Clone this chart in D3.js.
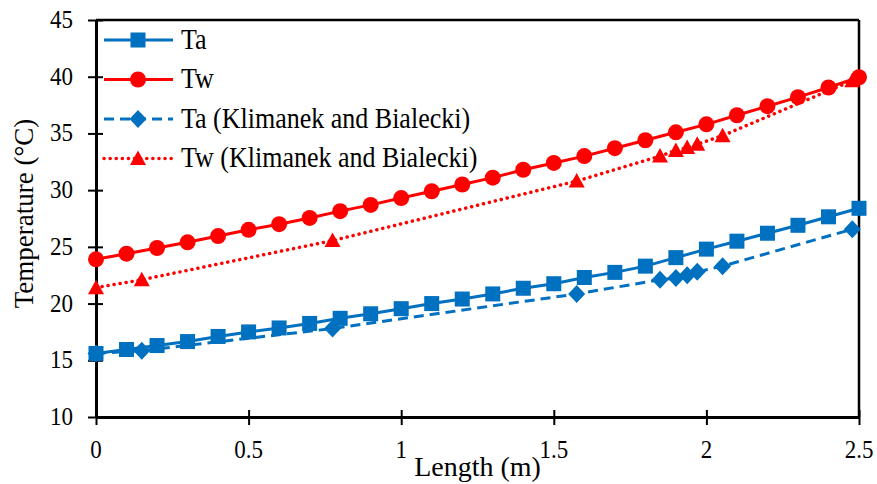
<!DOCTYPE html>
<html>
<head>
<meta charset="utf-8">
<script src="https://cdn.jsdelivr.net/npm/d3@7/dist/d3.min.js"></script>
<style>
  html, body { margin: 0; padding: 0; background: #fff; }
  svg { display: block; }
  text { font-family: "Liberation Serif", "Times New Roman", serif; fill: #000; }
</style>
</head>
<body>
<svg id="chart" width="877" height="484"></svg>
<script>
// ---------------- data ----------------
const lengthModel = [0, 0.1, 0.2, 0.3, 0.4, 0.5, 0.6, 0.7, 0.8, 0.9, 1.0, 1.1, 1.2, 1.3, 1.4, 1.5, 1.6, 1.7, 1.8, 1.9, 2.0, 2.1, 2.2, 2.3, 2.4, 2.5];
const taModel = [15.6, 15.95, 16.3, 16.65, 17.1, 17.5, 17.85, 18.25, 18.7, 19.1, 19.55, 20.0, 20.4, 20.85, 21.35, 21.75, 22.3, 22.75, 23.3, 24.05, 24.8, 25.5, 26.2, 26.9, 27.65, 28.4];
const twModel = [23.9, 24.4, 24.9, 25.4, 25.95, 26.5, 27.0, 27.55, 28.15, 28.7, 29.3, 29.9, 30.5, 31.1, 31.8, 32.4, 33.0, 33.7, 34.4, 35.1, 35.8, 36.6, 37.4, 38.2, 39.05, 39.95];
const lengthKB = [0, 0.15, 0.775, 1.575, 1.848, 1.9, 1.937, 1.97, 2.053, 2.478];
const taKB = [15.6, 15.85, 17.8, 20.85, 22.1, 22.25, 22.5, 22.8, 23.3, 26.55];
const twKB = [21.4, 22.1, 25.55, 30.8, 33.0, 33.5, 33.75, 34.05, 34.8, 39.65];
const xTicks = [0, 0.5, 1, 1.5, 2, 2.5];
const yTicks = [10, 15, 20, 25, 30, 35, 40, 45];
const seriesNames = ["Ta", "Tw", "Ta (Klimanek and Bialecki)", "Tw (Klimanek and Bialecki)"];
const xTitle = "Length (m)";
const yTitle = "Temperature (°C)";

// ---------------- setup ----------------
const BLUE = "#0070C0", RED = "#FF0000";
const svg = d3.select("#chart");
const x = d3.scaleLinear().domain([0, 2.5]).range([96, 859]);
const y = d3.scaleLinear().domain([10, 45]).range([417, 20]);
const SY = 1.1; // vertical stretch of text in reference

function label(g, px, py, str, size, anchor, sy) {
  return g.append("text")
    .attr("transform", `translate(${px},${py}) scale(1,${sy})`)
    .attr("font-size", size)
    .attr("text-anchor", anchor)
    .text(str);
}

const series = [
  { name: seriesNames[2], xs: lengthKB, ys: taKB, color: BLUE, dash: "10,6", marker: "diamond" },
  { name: seriesNames[3], xs: lengthKB, ys: twKB, color: RED, dash: "3,6", marker: "triangle" },
  { name: seriesNames[0], xs: lengthModel, ys: taModel, color: BLUE, dash: null, marker: "square" },
  { name: seriesNames[1], xs: lengthModel, ys: twModel, color: RED, dash: null, marker: "circle" }
];

function drawMarker(g, type, cx, cy, color) {
  if (type === "square") {
    g.append("rect").attr("x", cx - 7.5).attr("y", cy - 7.5).attr("width", 15).attr("height", 15).attr("fill", color);
  } else if (type === "circle") {
    g.append("circle").attr("cx", cx).attr("cy", cy).attr("r", 8).attr("fill", color);
  } else if (type === "diamond") {
    g.append("path").attr("d", `M${cx},${cy - 9}L${cx + 8.5},${cy}L${cx},${cy + 9}L${cx - 8.5},${cy}Z`).attr("fill", color);
  } else if (type === "triangle") {
    g.append("path").attr("d", `M${cx},${cy - 8}L${cx + 8},${cy + 6.5}L${cx - 8},${cy + 6.5}Z`).attr("fill", color);
  }
}

// ---------------- axes ----------------
const axG = svg.append("g");
// box top/right
axG.append("line").attr("x1", x(0)).attr("x2", x(2.5)).attr("y1", y(45)).attr("y2", y(45)).attr("stroke", "#000").attr("stroke-width", 2.5);
axG.append("line").attr("x1", x(2.5)).attr("x2", x(2.5)).attr("y1", y(45)).attr("y2", y(10)).attr("stroke", "#000").attr("stroke-width", 2.5);

const xAxis = d3.axisBottom(x).tickValues(xTicks).tickSize(0).tickFormat("");
const yAxis = d3.axisLeft(y).tickValues(yTicks).tickSize(0).tickFormat("");
const gx = axG.append("g").attr("transform", `translate(0,${y(10)})`).call(xAxis);
const gy = axG.append("g").attr("transform", `translate(${x(0)},0)`).call(yAxis);
gx.select(".domain").attr("stroke", "#000").attr("stroke-width", 3);
gy.select(".domain").attr("stroke", "#000").attr("stroke-width", 3);
// crossing ticks
gx.selectAll(".tick").append("line").attr("y1", -7).attr("y2", 8).attr("stroke", "#000").attr("stroke-width", 2);
gy.selectAll(".tick").append("line").attr("x1", -8).attr("x2", 7).attr("stroke", "#000").attr("stroke-width", 2);

xTicks.forEach(t => label(axG, x(t), 458, String(t), 23, "middle", SY));
yTicks.forEach(t => label(axG, 73, y(t) + 8, String(t), 23, "end", SY));

label(axG, 477.5, 476, xTitle, 28, "middle", 1);
axG.append("text")
  .attr("transform", `translate(33,213.5) rotate(-90)`)
  .attr("font-size", 27)
  .attr("text-anchor", "middle")
  .text(yTitle);

// ---------------- series ----------------
const plotG = svg.append("g");
series.forEach(s => {
  const pts = s.xs.map((v, i) => [v, s.ys[i]]);
  const line = d3.line().x(d => x(d[0])).y(d => y(d[1]));
  const path = plotG.append("path").attr("d", line(pts)).attr("fill", "none")
    .attr("stroke", s.color).attr("stroke-width", 3);
  if (s.dash) {
    path.attr("stroke-dasharray", s.dash);
    if (s.marker === "triangle") path.attr("stroke-dasharray", "0.1,6").attr("stroke-linecap", "round").attr("stroke-width", 3.5);
  }
  const mg = plotG.append("g");
  pts.forEach(p => drawMarker(mg, s.marker, x(p[0]), y(p[1]), s.color));
});

// ---------------- legend ----------------
const legG = svg.append("g");
const legendOrder = [series[2], series[3], series[0], series[1]];
const rowY = [40, 79.5, 119, 158.5];
legendOrder.forEach((s, i) => {
  const ly = rowY[i];
  const l = legG.append("line").attr("x1", 104).attr("x2", 173).attr("y1", ly).attr("y2", ly)
    .attr("stroke", s.color).attr("stroke-width", 3);
  if (s.dash) {
    l.attr("stroke-dasharray", s.dash);
    if (s.marker === "triangle") l.attr("stroke-dasharray", "0.1,6").attr("stroke-linecap", "round").attr("stroke-width", 3.5);
  }
  drawMarker(legG, s.marker, 138, ly, s.color);
  label(legG, 181, ly + 8.5, s.name, 26, "start", SY);
});
</script>
</body>
</html>
